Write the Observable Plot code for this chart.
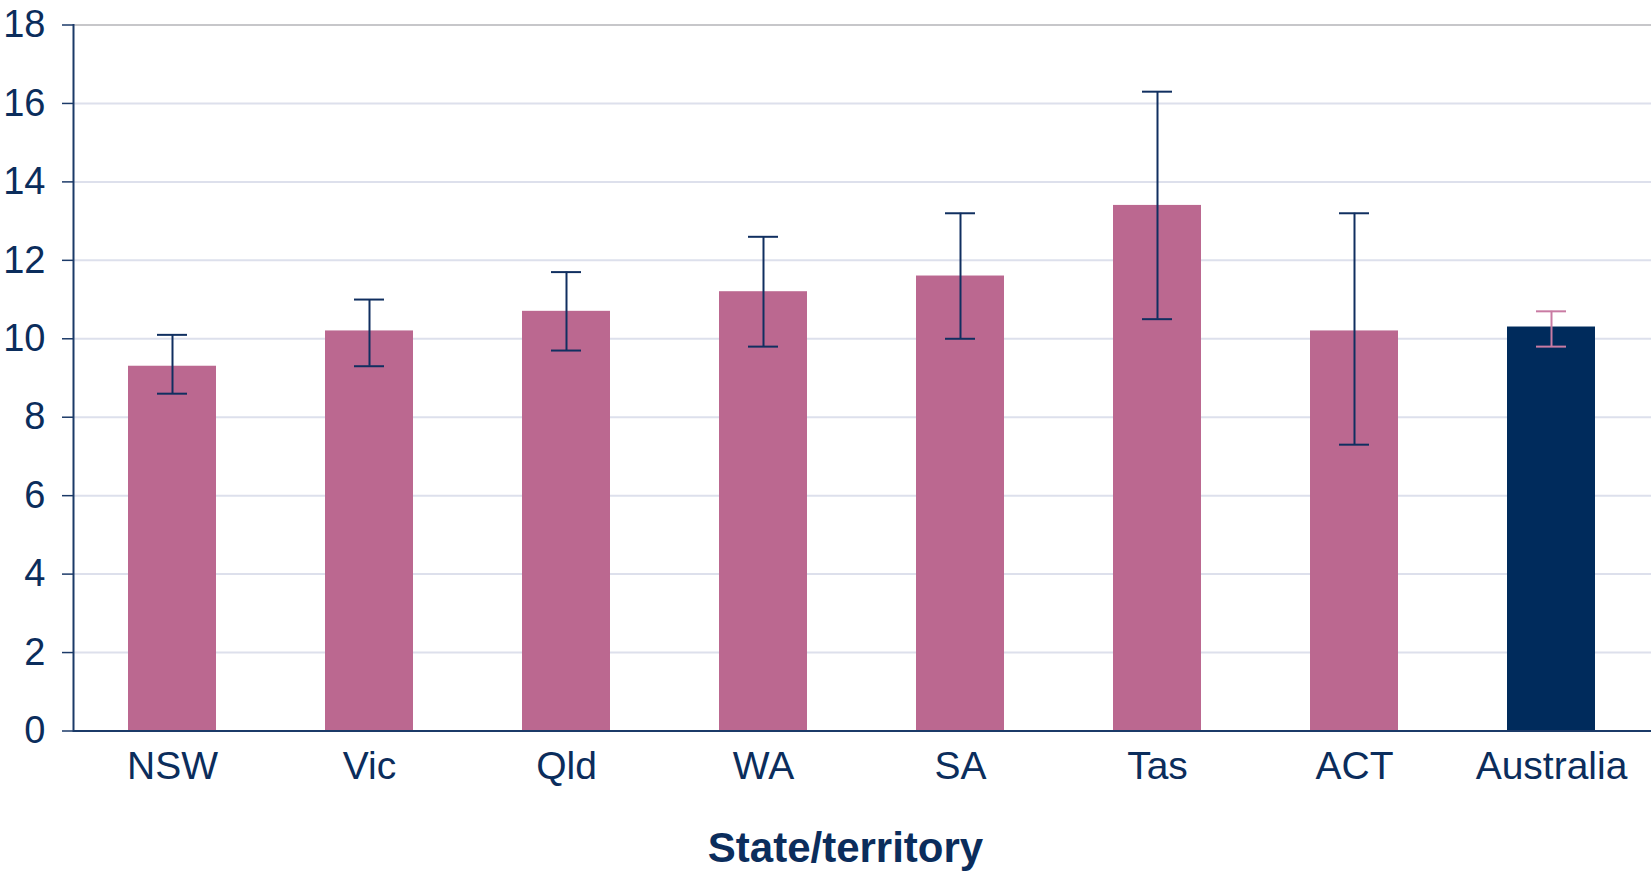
<!DOCTYPE html>
<html>
<head>
<meta charset="utf-8">
<script src="https://cdn.jsdelivr.net/npm/d3@7"></script>
<script src="https://cdn.jsdelivr.net/npm/@observablehq/plot@0.6"></script>
<style>
  html, body { margin: 0; padding: 0; background: #ffffff; }
</style>
</head>
<body>
<div id="chart"></div>
<script>
const categories = ["NSW", "Vic", "Qld", "WA", "SA", "Tas", "ACT", "Australia"];
const values = [9.3, 10.2, 10.7, 11.2, 11.6, 13.4, 10.2, 10.3];
const lowerCI = [8.6, 9.3, 9.7, 9.8, 10.0, 10.5, 7.3, 9.8];
const upperCI = [10.1, 11.0, 11.7, 12.6, 13.2, 16.3, 13.2, 10.7];
const yTicks = [0, 2, 4, 6, 8, 10, 12, 14, 16, 18];
const xTitle = "State/territory";

const pink = "#bb6890";
const navy = "#002b5c";
const textColor = "#0b2d5c";
const axisColor = "#1b3a68";

const data = categories.map((c, i) => ({
  cat: c, value: values[i], lo: lowerCI[i], hi: upperCI[i],
  national: c === "Australia"
}));

const chart = Plot.plot({
  width: 1652,
  height: 872,
  marginLeft: 73,
  marginRight: 1,
  marginTop: 24.5,
  marginBottom: 141.5,
  style: {fontFamily: "'Liberation Sans', Arial, sans-serif", color: textColor, background: "#ffffff"},
  x: {domain: categories, paddingInner: 0.553, paddingOuter: 0.2765, axis: null},
  y: {domain: [0, 18], axis: null},
  marks: [
    Plot.ruleY(yTicks.filter(d => d > 0 && d < 18), {stroke: "#dde0ec", strokeWidth: 2}),
    Plot.ruleY([18], {stroke: "#b4b4b8", strokeWidth: 1.5}),
    Plot.barY(data, {x: "cat", y: "value", fill: d => d.national ? navy : pink}),
    Plot.ruleX(data, {x: "cat", y1: "lo", y2: "hi", stroke: d => d.national ? "#c97ba3" : "#102f60", strokeWidth: 2}),
    Plot.tickY(data, {x: "cat", y: "lo", stroke: d => d.national ? "#c97ba3" : "#102f60", strokeWidth: 2, insetLeft: 29, insetRight: 29}),
    Plot.tickY(data, {x: "cat", y: "hi", stroke: d => d.national ? "#c97ba3" : "#102f60", strokeWidth: 2, insetLeft: 29, insetRight: 29}),
    Plot.ruleY([0], {stroke: axisColor, strokeWidth: 2}),
    Plot.frame({anchor: "left", stroke: axisColor, strokeWidth: 2}),
    Plot.axisY({ticks: yTicks, tickSize: 11, tickPadding: 17, fontSize: 38, stroke: axisColor, strokeWidth: 1.5, strokeOpacity: 1, fill: textColor, label: null}),
    Plot.axisX({tickSize: 0, tickPadding: 20, fontSize: 39, fill: textColor, label: null}),
    Plot.text([xTitle], {frameAnchor: "bottom", lineAnchor: "top", dy: 101, dx: -17, fontSize: 42, fontWeight: "bold", fill: textColor})
  ]
});
document.getElementById("chart").appendChild(chart);
</script>
</body>
</html>
